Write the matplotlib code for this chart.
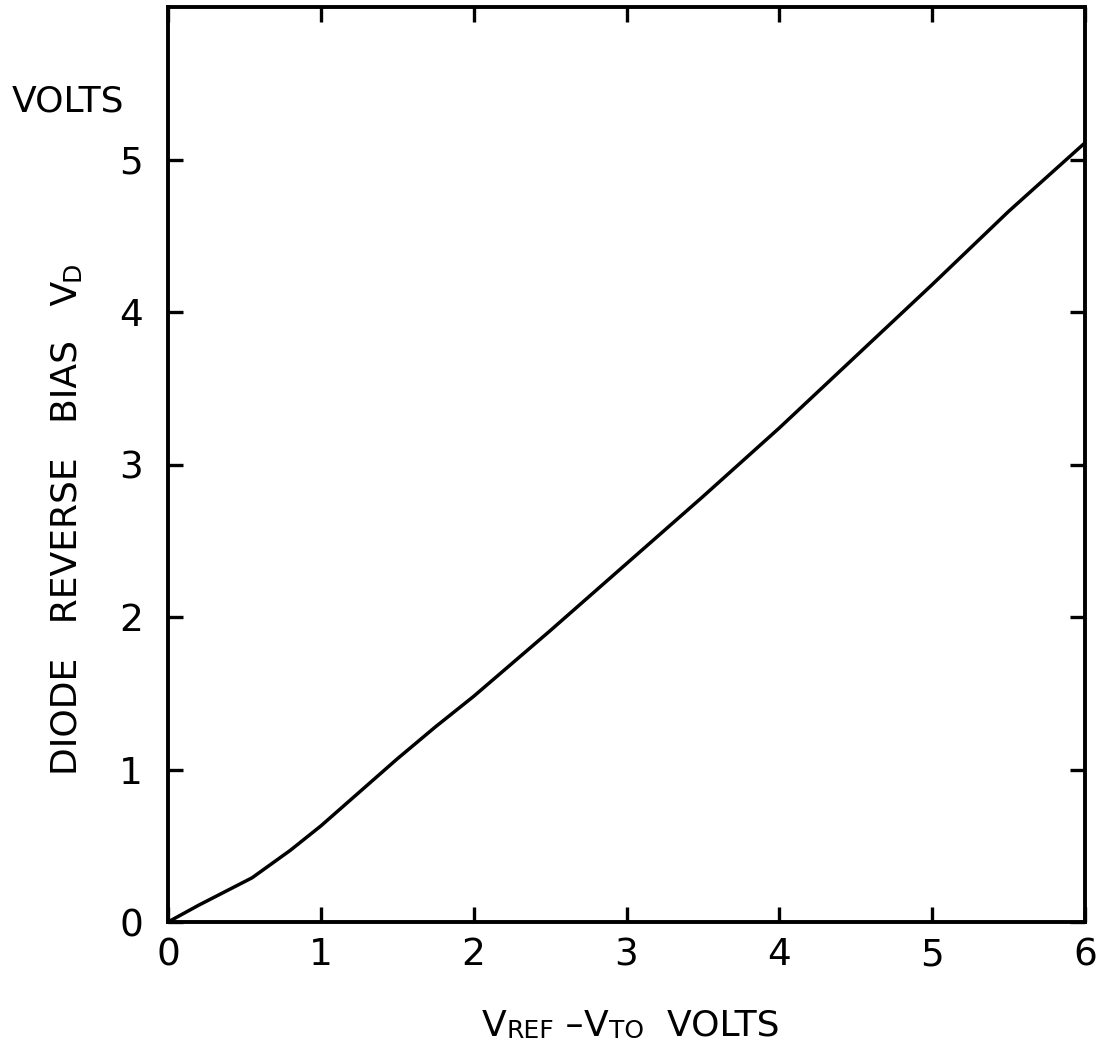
import matplotlib
matplotlib.use("Agg")
import matplotlib.pyplot as plt

vref_minus_vto = [0, 0.2, 0.55, 0.8, 1.0, 1.25, 1.5, 1.75, 2.0, 2.5, 3.0, 3.5,
                  4.0, 4.5, 5.0, 5.5, 6.0]
vd = [0, 0.11, 0.29, 0.47, 0.63, 0.85, 1.07, 1.28, 1.48, 1.91, 2.35, 2.79,
      3.24, 3.71, 4.18, 4.66, 5.11]
xticks = [0, 1, 2, 3, 4, 5, 6]
yticks = [0, 1, 2, 3, 4, 5]

plt.rcParams['font.family'] = ['DejaVu Sans']

fig = plt.figure(figsize=(11.03, 10.51), dpi=100)
ax = fig.add_axes([0.1523, 0.1227, 0.8314, 0.8706])

ax.plot(vref_minus_vto, vd, color='black', lw=2.5, solid_capstyle='round',
        solid_joinstyle='round')

ax.set_xlim(0, 6)
ax.set_ylim(0, 6)
ax.set_xticks(xticks)
ax.set_yticks(yticks)
ax.tick_params(direction='in', length=11, width=2.4, labelsize=27,
               top=True, right=True)
ax.tick_params(axis='x', pad=11)
ax.tick_params(axis='y', pad=18)
for s in ax.spines.values():
    s.set_linewidth(2.8)

big, small = 26, 18

# y label: DIODE REVERSE BIAS V(D)
t = fig.text(84 / 1103, 1 - 775 / 1051, 'DIODE   REVERSE   BIAS   V', fontsize=big,
             rotation=90, ha='right', va='bottom')
ax.annotate('D', xy=(1, 1), xycoords=t, fontsize=small, rotation=90,
            ha='right', va='bottom', annotation_clip=False)

# x label: V(REF) - V(TO)  VOLTS
pieces = [('V', big), ('REF', small), (' \u2013', big), ('V', big),
          ('TO', small), ('  VOLTS', big)]
prev = fig.text(482 / 1103, 1 - 1036 / 1051, pieces[0][0], fontsize=pieces[0][1],
                ha='left', va='baseline')
for s, fs in pieces[1:]:
    prev = ax.annotate(s, xy=(1, 0), xycoords=prev, fontsize=fs,
                       ha='left', va='bottom', annotation_clip=False)

fig.text(12 / 1103, 1 - 112 / 1051, 'VOLTS', fontsize=big, ha='left', va='baseline')

plt.savefig('out.png', dpi=100)
